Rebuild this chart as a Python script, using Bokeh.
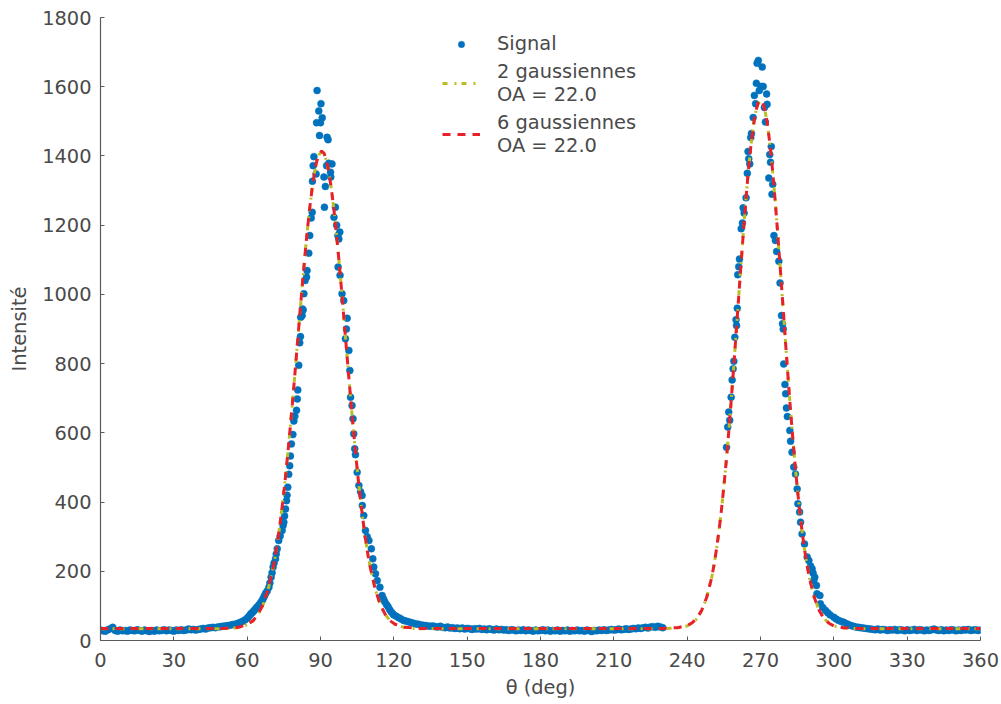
from bokeh.plotting import figure
from bokeh.models import Range1d, FixedTicker, Legend, LegendItem, ColumnDataSource
from bokeh.embed import file_html
from bokeh.resources import INLINE

# ---------------- data ----------------
x_ticks = [0, 30, 60, 90, 120, 150, 180, 210, 240, 270, 300, 330, 360]
y_ticks = [0, 200, 400, 600, 800, 1000, 1200, 1400, 1600, 1800]

# baseline 0..44 deg
theta_a = list(range(0, 45))
int_a = [30, 28, 27, 31, 34, 38, 29, 27, 30, 28, 29, 27, 30, 29, 28, 31, 29, 27, 30, 28,
         26, 29, 27, 30, 28, 29, 31, 28, 30, 29, 27, 30, 29, 31, 29, 30, 33, 31, 32, 30,
         32, 33, 35, 33, 36]
# rising tail 45..59 deg
theta_b = list(range(45, 60))
int_b = [37, 38, 37, 39, 40, 41, 42, 43, 44, 46, 47, 49, 52, 55, 59]
# first peak 60..136 deg
theta_c = [60.0, 60.5, 61.0, 61.5, 62.0, 62.5, 63.0, 63.5, 64.0, 64.5, 65.0, 65.5, 66.0, 66.4, 66.8,
           67.2, 67.6, 68.2, 68.9, 69.3, 69.8, 70.2, 70.6, 71.0, 71.6, 71.9, 72.3, 72.9, 73.5, 74.3,
           74.7, 75.0, 75.3, 75.7, 76.1, 76.3, 76.6, 77.0, 77.4, 77.7, 78.1, 78.7, 79.1, 79.5, 80.2,
           80.5, 80.7, 81.1, 81.5, 81.8, 81.9, 82.5, 82.6, 82.9, 83.2, 83.7, 84.3, 84.5, 85.2, 85.6,
           86.2, 86.6, 86.7, 87.0, 87.3, 88.2, 88.4, 88.6, 89.3, 89.6, 90.0, 90.2, 90.7, 91.4, 91.6,
           92.0, 92.5, 92.7, 93.1, 93.4, 94.1, 94.2, 94.7, 95.5, 96.1, 96.6, 97.1, 97.2, 97.5, 97.9,
           98.0, 98.8, 99.5, 100.2, 100.6, 100.9, 101.6, 102.0, 102.3, 102.9, 103.3, 103.6, 104.0, 104.3, 105.0,
           105.7, 106.4, 107.0, 107.1, 107.7, 108.4, 109.1, 109.8, 110.8, 111.4, 111.8, 112.5, 113.2, 114.3, 115.2,
           115.8, 116.3, 117.0, 117.6, 118.2, 118.8, 119.5, 120.0, 121, 122, 123, 124, 125, 126, 127,
           128, 129, 130, 131, 132, 133, 134, 135, 136]
int_c = [64, 68, 72, 77, 80, 84, 88, 92, 96, 100, 104, 109, 114, 119, 125,
         131, 137, 143, 154, 166, 183, 196, 212, 224, 236, 250, 265, 289, 302, 318,
         332, 342, 360, 380, 404, 420, 443, 480, 505, 533, 568, 595, 634, 648, 665,
         698, 724, 795, 860, 878, 934, 939, 958, 955, 1002, 1040, 1050, 1069, 1119, 1170,
         1221, 1237, 1327, 1372, 1398, 1348, 1496, 1589, 1530, 1459, 1496, 1551, 1510, 1339, 1252,
         1312, 1372, 1454, 1447, 1379, 1353, 1339, 1377, 1223, 1252, 1200, 1170, 1079, 1160, 1180,
         1055, 1002, 982, 872, 900, 931, 838, 780, 703, 679, 641, 597, 554, 537, 486,
         448, 430, 419, 390, 361, 318, 300, 289, 265, 236, 212, 193, 173, 154, 130,
         120, 112, 104, 98, 90, 84, 78, 74, 70, 66, 62, 58, 56, 54, 52,
         50, 48, 47, 45, 44, 43, 42, 41, 42]
# between the peaks 137..230 deg
theta_d = list(range(137, 231))
int_d = [40, 39, 41, 38, 37, 39, 36, 37, 35, 36, 34, 36, 33, 35, 34, 32, 34, 33, 35, 32,
         33, 31, 34, 32, 30, 33, 31, 32, 30, 31, 29, 31, 30, 28, 30, 29, 31, 28, 30, 29,
         27, 30, 28, 29, 31, 28, 30, 27, 29, 28, 30, 27, 29, 28, 30, 27, 29, 28, 30, 28,
         29, 27, 30, 28, 26, 29, 28, 30, 29, 31, 29, 30, 32, 30, 31, 33, 31, 32, 34, 32,
         33, 35, 34, 36, 35, 37, 38, 36, 39, 40, 38, 41, 39, 37]
# second peak 256..315 deg
theta_e = [256.1, 256.6, 257.0, 257.4, 258.0, 258.4, 258.8, 259.1, 259.5, 260.0, 260.2, 260.5, 260.7, 261.1, 261.4,
           262.1, 262.6, 262.9, 263.3, 264.1, 264.6, 264.9, 265.2, 265.6, 266.0, 266.3, 267.0, 267.5, 268.0, 268.3,
           268.6, 269.1, 269.5, 270.2, 270.7, 271.1, 271.6, 272.0, 272.5, 272.7, 273.4, 273.8, 274.1, 274.4, 274.7,
           275.0, 275.5, 276.1, 276.6, 277.5, 278.0, 278.6, 279.0, 279.3, 279.5, 280.0, 280.3, 280.6, 281.0, 282.0,
           282.3, 282.9, 283.6, 284.3, 285.0, 285.3, 286.0, 286.4, 287.0, 288.0, 289.1, 289.8, 290.5, 291.1, 291.5,
           291.8, 292.2, 292.9, 293.1, 294.3, 294.5, 295.5, 296.6, 297.5, 298.5, 300, 301, 302, 303, 304,
           305, 306, 307, 308, 309, 310, 311, 312, 313, 314, 315]
int_e = [558, 617, 660, 636, 703, 753, 785, 807, 876, 927, 910, 960, 1057, 1080, 1102,
         1190, 1206, 1250, 1235, 1279, 1350, 1413, 1392, 1377, 1453, 1465, 1511, 1575, 1551, 1610,
         1668, 1676, 1589, 1601, 1657, 1601, 1540, 1498, 1579, 1549, 1336, 1404, 1382, 1427, 1289,
         1318, 1170, 1156, 1124, 1096, 1033, 939, 915, 900, 799, 740, 713, 672, 647, 607,
         576, 544, 501, 481, 438, 395, 371, 342, 308, 279, 241, 231, 215, 207, 195,
         173, 183, 159, 135, 130, 106, 95, 87, 80, 74, 67, 62, 58, 55, 53,
         49, 46, 43, 41, 39, 38, 37, 36, 35, 34, 33]
# baseline 316..360 deg
theta_f = list(range(316, 361))
int_f = [32, 31, 33, 30, 32, 31, 29, 31, 30, 32, 29, 31, 30, 28, 31, 29, 30, 32, 29, 31,
         30, 28, 30, 29, 31, 33, 30, 29, 31, 28, 30, 29, 31, 30, 28, 30, 29, 31, 30, 32,
         29, 30, 31, 29, 30]

# fitted curves
fit_theta = [0, 10, 20, 30, 40, 50.5, 56.5, 60.5, 62.5, 64.5, 66.5, 68.5, 70.5, 71.5, 72.5,
             73.5, 74.5, 75.5, 76.5, 77.5, 78.5, 79.5, 80.5, 81.5, 82.5, 83.5, 84.5, 85.5, 86.5, 87.5,
             88.5, 89.5, 90.5, 91.5, 92.5, 93.5, 94.5, 95.5, 96.5, 97.5, 98.5, 99.5, 100.5, 101.5, 102.5,
             103.5, 104.5, 105.5, 106.5, 107.5, 108.5, 109.5, 110.5, 112.5, 114.5, 116.5, 118.5, 120.5, 124.5, 130.5,
             140, 160, 180, 200, 220, 230, 236, 240, 242, 244, 246, 248, 250, 251, 252,
             253, 254, 255, 256, 257, 258, 259, 260, 261, 262, 263, 264, 265, 266, 267,
             268, 269, 270, 271, 272, 273, 274, 275, 276, 277, 278, 279, 280, 281, 282,
             283, 284, 285, 286, 287, 288, 289, 290, 292, 294, 296, 298, 300, 304, 310,
             320, 340, 360]
fit_2g = [34, 34, 34, 34, 34, 34, 37, 47, 57, 75, 103, 145, 206, 244, 289,
          340, 398, 461, 531, 606, 685, 768, 853, 938, 1022, 1102, 1177, 1244, 1302, 1349,
          1384, 1405, 1412, 1405, 1384, 1349, 1302, 1244, 1177, 1102, 1022, 938, 853, 768, 685,
          606, 531, 461, 398, 340, 289, 244, 206, 145, 103, 75, 57, 47, 37, 34,
          34, 34, 34, 34, 34, 34, 36, 42, 50, 63, 87, 124, 181, 219, 264,
          316, 376, 444, 519, 602, 692, 786, 885, 985, 1084, 1180, 1271, 1353, 1424, 1482,
          1525, 1551, 1560, 1551, 1525, 1482, 1424, 1353, 1271, 1180, 1084, 985, 885, 786, 692,
          602, 519, 444, 376, 316, 264, 219, 181, 124, 87, 63, 50, 42, 36, 34,
          34, 34, 34]
fit_6g = [35, 35, 35, 35, 35, 35, 38, 48, 58, 76, 104, 146, 206, 244, 289,
          340, 398, 461, 531, 606, 685, 768, 853, 938, 1022, 1102, 1177, 1244, 1302, 1350,
          1386, 1407, 1414, 1407, 1386, 1350, 1302, 1244, 1177, 1102, 1022, 938, 853, 768, 685,
          606, 531, 461, 398, 340, 289, 244, 206, 145, 103, 75, 57, 47, 38, 35,
          35, 35, 35, 35, 35, 35, 37, 43, 51, 64, 88, 125, 181, 219, 264,
          316, 376, 444, 519, 602, 692, 786, 885, 985, 1084, 1180, 1271, 1354, 1425, 1484,
          1527, 1553, 1562, 1553, 1527, 1484, 1425, 1354, 1271, 1180, 1084, 985, 885, 786, 692,
          602, 519, 444, 376, 316, 264, 219, 181, 124, 87, 63, 50, 42, 37, 35,
          35, 35, 35]

signal_theta = theta_a + theta_b + theta_c + theta_d + theta_e + theta_f
signal_int = int_a + int_b + int_c + int_d + int_e + int_f

# ---------------- styles ----------------
FONT = "DejaVu Sans"
TXT = "#4a4a4a"
AX = "#5a5a5a"
FS = "19.4px"

p = figure(width=1001, height=704, output_backend="svg", toolbar_location=None,
           x_range=Range1d(0, 360), y_range=Range1d(0, 1800),
           min_border_left=100, min_border_right=21, min_border_top=17, min_border_bottom=64)
p.outline_line_color = None
p.grid.visible = False
p.background_fill_color = "white"
p.border_fill_color = "white"

for ax in (p.xaxis[0], p.yaxis[0]):
    ax.axis_line_color = AX
    ax.axis_line_width = 1.2
    ax.major_tick_line_color = AX
    ax.major_tick_in = 4
    ax.major_tick_out = 0
    ax.minor_tick_line_color = None
    ax.major_label_text_font = FONT
    ax.major_label_text_font_size = FS
    ax.major_label_text_color = TXT
    ax.axis_label_text_font = FONT
    ax.axis_label_text_font_size = FS
    ax.axis_label_text_color = TXT
    ax.axis_label_text_font_style = "normal"

p.xaxis.ticker = FixedTicker(ticks=x_ticks)
p.yaxis.ticker = FixedTicker(ticks=y_ticks)
p.xaxis.axis_label = "θ (deg)"
p.yaxis.axis_label = "Intensité"
p.xaxis.major_label_standoff = 12
p.yaxis.major_label_standoff = 9
p.xaxis.axis_label_standoff = 6
p.yaxis.axis_label_standoff = 8

src = ColumnDataSource(dict(theta=signal_theta, intensity=signal_int))
fit_src = ColumnDataSource(dict(theta=fit_theta, g2=fit_2g, g6=fit_6g))

r_sig = p.scatter("theta", "intensity", source=src, size=7, marker="circle",
                  fill_color="#0072BD", line_color="#0072BD", line_width=0.5)
r_2g = p.line("theta", "g2", source=fit_src, line_color="#BDBD22", line_width=3,
              line_dash="5 7 2 5")
r_6g = p.line("theta", "g6", source=fit_src, line_color="#E8202A", line_width=3,
              line_dash="8 7")

legend = Legend(items=[
    LegendItem(label="Signal", renderers=[r_sig]),
    LegendItem(label="2 gaussiennes\nOA = 22.0", renderers=[r_2g]),
    LegendItem(label="6 gaussiennes\nOA = 22.0", renderers=[r_6g]),
], location=(342, 483))
legend.border_line_color = None
legend.background_fill_alpha = 0
legend.padding = 0
legend.margin = 0
legend.spacing = 5
legend.glyph_width = 38
legend.glyph_height = 16
legend.label_height = 23
legend.label_standoff = 17
legend.label_text_font = FONT
legend.label_text_font_size = FS
legend.label_text_color = TXT
p.add_layout(legend)

open("out.html", "w").write(file_html(p, INLINE))
